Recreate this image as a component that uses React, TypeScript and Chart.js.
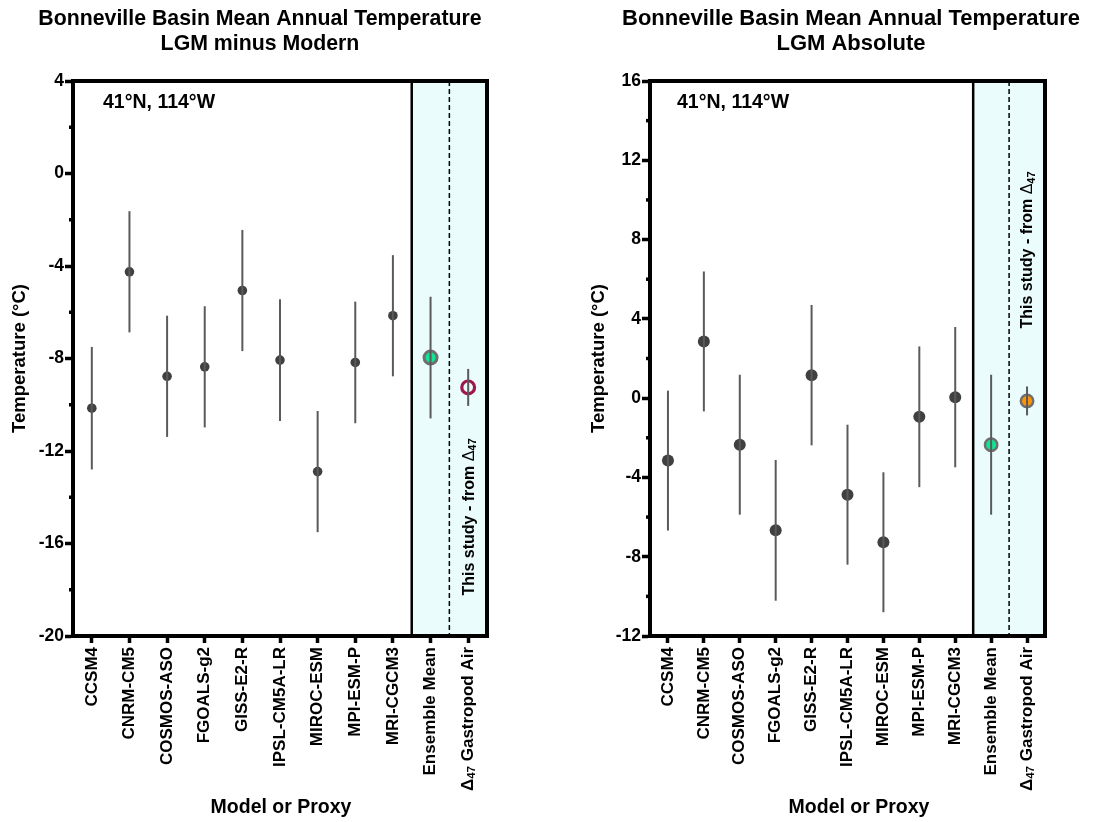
import React, { useEffect, useRef } from 'react';
import { Chart, registerables } from 'chart.js';

Chart.register(...registerables);

// ---------- data ----------
const categories = [
  'CCSM4',
  'CNRM-CM5',
  'COSMOS-ASO',
  'FGOALS-g2',
  'GISS-E2-R',
  'IPSL-CM5A-LR',
  'MIROC-ESM',
  'MPI-ESM-P',
  'MRI-CGCM3',
  'Ensemble Mean',
  'Δ47 Gastropod Air',
];

// LGM minus Modern (°C): mean and ± error, one per category
const diffMeans = [-10.15, -4.25, -8.77, -8.36, -5.06, -8.07, -12.89, -8.17, -6.15, -7.96, -9.25];
const diffErrs = [2.65, 2.62, 2.62, 2.62, 2.62, 2.63, 2.62, 2.63, 2.62, 2.63, 0.8];

// LGM Absolute (°C)
const absMeans = [-3.15, 2.86, -2.35, -6.67, 1.16, -4.87, -7.27, -0.94, 0.05, -2.35, -0.14];
const absErrs = [3.53, 3.53, 3.53, 3.55, 3.54, 3.53, 3.53, 3.55, 3.54, 3.53, 0.73];

const diffYRange = [-20, 4];
const absYRange = [-12, 16];
const yStep = 4;

// ---------- styles ----------
const FONT = '"Liberation Sans", Arial, Helvetica, sans-serif';
const SHADE = '#eafdfc';
const GREY_PT = '#404040';
const ERR = '#5a5a5a';
const GREEN = '#10e594';
const ORANGE = '#ff9400';
const CRIMSON = '#a0174f';
const RING = '#6f6f6f';

type Panel = {
  means: number[];
  errs: number[];
  yRange: number[];
  title1: string;
  title2: string;
  titleX: number;
  titleSize: number;
  xTitleX: number;
  yTitleX: number;
  yWidth: number;
  padRight: number;
  coordDx: number;
  studyY: number;
  modelR: number;
  ens: { r: number; bw: number; fill: string; border: string };
  proxy: { r: number; bw: number; fill: string; border: string };
};

function drawParts(
  ctx: CanvasRenderingContext2D,
  x: number,
  y: number,
  parts: { text: string; font: string; dy?: number }[],
  align: 'end' | 'center',
) {
  ctx.save();
  ctx.translate(x, y);
  ctx.rotate(-Math.PI / 2);
  ctx.textBaseline = 'middle';
  ctx.textAlign = 'left';
  ctx.fillStyle = '#000';
  const widths = parts.map((p) => {
    ctx.font = p.font;
    return ctx.measureText(p.text).width;
  });
  const total = widths.reduce((s, w) => s + w, 0);
  let cx = align === 'end' ? -total : -total / 2;
  parts.forEach((p, i) => {
    ctx.font = p.font;
    ctx.fillText(p.text, cx, p.dy || 0);
    cx += widths[i];
  });
  ctx.restore();
}

function buildChart(canvas: HTMLCanvasElement, cfg: Panel) {
  const n = categories.length;
  const modelData = cfg.means.map((v, i) => (i < n - 2 ? v : null));
  const ensData = cfg.means.map((v, i) => (i === n - 2 ? v : null));
  const proxyData = cfg.means.map((v, i) => (i === n - 1 ? v : null));

  const decor = {
    id: 'decor',
    beforeDraw(chart: any) {
      const { ctx, chartArea: a } = chart;
      const x = chart.scales.x;
      const p = (i: number) => x.getPixelForValue(i);
      const xs = (p(n - 3) + p(n - 2)) / 2;
      const xd = (p(n - 2) + p(n - 1)) / 2;
      ctx.save();
      ctx.fillStyle = SHADE;
      ctx.fillRect(xs, a.top, a.right - xs, a.bottom - a.top);
      ctx.strokeStyle = '#000';
      ctx.lineWidth = 2.5;
      ctx.beginPath();
      ctx.moveTo(xs, a.top);
      ctx.lineTo(xs, a.bottom);
      ctx.stroke();
      ctx.lineWidth = 1.5;
      ctx.setLineDash([5, 3]);
      ctx.beginPath();
      ctx.moveTo(xd, a.top);
      ctx.lineTo(xd, a.bottom);
      ctx.stroke();
      ctx.restore();
    },
    afterDatasetsDraw(chart: any) {
      const { ctx } = chart;
      const x = chart.scales.x;
      const y = chart.scales.y;
      ctx.save();
      ctx.strokeStyle = ERR;
      ctx.lineWidth = 2;
      for (let i = 0; i < n; i++) {
        const px = x.getPixelForValue(i);
        ctx.beginPath();
        ctx.moveTo(px, y.getPixelForValue(cfg.means[i] + cfg.errs[i]));
        ctx.lineTo(px, y.getPixelForValue(cfg.means[i] - cfg.errs[i]));
        ctx.stroke();
      }
      ctx.restore();
    },
    afterDraw(chart: any) {
      const { ctx, chartArea: a } = chart;
      const x = chart.scales.x;
      const y = chart.scales.y;
      ctx.save();
      // top and right frame
      ctx.strokeStyle = '#000';
      ctx.lineWidth = 4;
      ctx.beginPath();
      ctx.moveTo(a.left - 2, a.top);
      ctx.lineTo(a.right + 2, a.top);
      ctx.moveTo(a.right, a.top);
      ctx.lineTo(a.right, a.bottom + 2);
      ctx.stroke();
      // minor ticks
      ctx.lineWidth = 3.5;
      const ticks = y.ticks;
      for (let i = 0; i < ticks.length - 1; i++) {
        const mid = (ticks[i].value + ticks[i + 1].value) / 2;
        const py = y.getPixelForValue(mid);
        ctx.beginPath();
        ctx.moveTo(a.left - 4, py);
        ctx.lineTo(a.left, py);
        ctx.stroke();
      }
      // titles
      ctx.fillStyle = '#000';
      ctx.textAlign = 'center';
      ctx.textBaseline = 'middle';
      ctx.font = `bold ${cfg.titleSize}px ${FONT}`;
      ctx.fillText(cfg.title1, cfg.titleX, 19);
      ctx.fillText(cfg.title2, cfg.titleX, 44);
      // x title
      ctx.font = `bold 19.5px ${FONT}`;
      ctx.fillText('Model or Proxy', cfg.xTitleX, 808);
      // y title
      ctx.font = `bold 18.5px ${FONT}`;
      ctx.save();
      ctx.translate(cfg.yTitleX, (a.top + a.bottom) / 2);
      ctx.rotate(-Math.PI / 2);
      ctx.fillText('Temperature (°C)', 0, 0);
      ctx.restore();
      // coordinates
      ctx.textAlign = 'left';
      ctx.font = `bold 19.5px ${FONT}`;
      ctx.fillText('41°N, 114°W', a.left + cfg.coordDx, a.top + 22);
      ctx.restore();

      // last category label with subscript
      const lx = x.getPixelForValue(n - 1);
      drawParts(
        ctx,
        lx,
        a.bottom + 7 + 4,
        [
          { text: 'Δ', font: `bold 17px ${FONT}` },
          { text: '47', font: `bold 11.5px ${FONT}`, dy: 4 },
          { text: ' Gastropod Air', font: `bold 17px ${FONT}` },
        ],
        'end',
      );
      // "This study" annotation
      drawParts(
        ctx,
        lx + 1,
        cfg.studyY,
        [
          { text: 'This study - from ', font: `bold 16px ${FONT}` },
          { text: 'Δ', font: `16px ${FONT}` },
          { text: '47', font: `bold 11px ${FONT}`, dy: 4 },
        ],
        'center',
      );
    },
  };

  return new Chart(canvas, {
    type: 'line',
    data: {
      labels: categories,
      datasets: [
        {
          data: modelData,
          showLine: false,
          pointRadius: cfg.modelR,
          pointBackgroundColor: GREY_PT,
          pointBorderColor: GREY_PT,
          pointBorderWidth: 0,
        },
        {
          data: ensData,
          showLine: false,
          pointRadius: cfg.ens.r,
          pointBackgroundColor: cfg.ens.fill,
          pointBorderColor: cfg.ens.border,
          pointBorderWidth: cfg.ens.bw,
        },
        {
          data: proxyData,
          showLine: false,
          pointRadius: cfg.proxy.r,
          pointBackgroundColor: cfg.proxy.fill,
          pointBorderColor: cfg.proxy.border,
          pointBorderWidth: cfg.proxy.bw,
        },
      ],
    },
    options: {
      animation: false,
      responsive: false,
      events: [],
      layout: { padding: { left: 0, right: cfg.padRight, top: 81, bottom: 0 } },
      plugins: {
        legend: { display: false },
        tooltip: { enabled: false },
        title: { display: false },
      },
      scales: {
        x: {
          type: 'category',
          offset: true,
          grid: {
            display: true,
            drawOnChartArea: false,
            drawTicks: true,
            tickLength: 7,
            tickWidth: 3.5,
            tickColor: '#000',
          },
          border: { display: true, color: '#000', width: 4 },
          ticks: {
            autoSkip: false,
            maxRotation: 90,
            minRotation: 90,
            padding: 4,
            color: '#000',
            font: { family: FONT, size: 17, weight: 'bold' },
            callback: (_v: any, i: number) => (i === n - 1 ? '' : categories[i]),
          },
          afterFit: (s: any) => {
            s.height = 186;
          },
        },
        y: {
          min: cfg.yRange[0],
          max: cfg.yRange[1],
          grid: {
            display: true,
            drawOnChartArea: false,
            drawTicks: true,
            tickLength: 8,
            tickWidth: 3.5,
            tickColor: '#000',
          },
          border: { display: true, color: '#000', width: 4 },
          ticks: {
            stepSize: yStep,
            padding: 1,
            color: '#000',
            font: { family: FONT, size: 17.5, weight: 'bold' },
          },
          afterFit: (s: any) => {
            s.width = cfg.yWidth;
          },
        },
      },
    },
    plugins: [decor],
  } as any);
}

const leftPanel: Panel = {
  means: diffMeans,
  errs: diffErrs,
  yRange: diffYRange,
  title1: 'Bonneville Basin Mean Annual Temperature',
  title2: 'LGM minus Modern',
  titleX: 260,
  titleSize: 21.3,
  xTitleX: 281,
  yTitleX: 20,
  yWidth: 73,
  padRight: 65,
  coordDx: 30,
  studyY: 517,
  modelR: 4.8,
  ens: { r: 6.5, bw: 3, fill: GREEN, border: RING },
  proxy: { r: 6.4, bw: 3.2, fill: 'rgba(0,0,0,0)', border: CRIMSON },
};

const rightPanel: Panel = {
  means: absMeans,
  errs: absErrs,
  yRange: absYRange,
  title1: 'Bonneville Basin Mean Annual Temperature',
  title2: 'LGM Absolute',
  titleX: 299,
  titleSize: 22,
  xTitleX: 307,
  yTitleX: 47,
  yWidth: 98,
  padRight: 59,
  coordDx: 27,
  studyY: 250,
  modelR: 6,
  ens: { r: 6.2, bw: 2.5, fill: GREEN, border: RING },
  proxy: { r: 6.2, bw: 2.5, fill: ORANGE, border: RING },
};

function PanelChart({ cfg, left }: { cfg: Panel; left: number }) {
  const ref = useRef<HTMLCanvasElement | null>(null);
  useEffect(() => {
    if (!ref.current) return;
    const chart = buildChart(ref.current, cfg);
    return () => chart.destroy();
  }, [cfg]);
  return (
    <canvas
      ref={ref}
      width={552}
      height={822}
      style={{ position: 'absolute', left, top: 0, width: 552, height: 822 }}
    />
  );
}

export default function App() {
  return (
    <div
      style={{
        position: 'absolute',
        left: 0,
        top: 0,
        width: 1104,
        height: 822,
        background: '#fff',
        overflow: 'hidden',
      }}
    >
      <PanelChart cfg={leftPanel} left={0} />
      <PanelChart cfg={rightPanel} left={552} />
    </div>
  );
}
